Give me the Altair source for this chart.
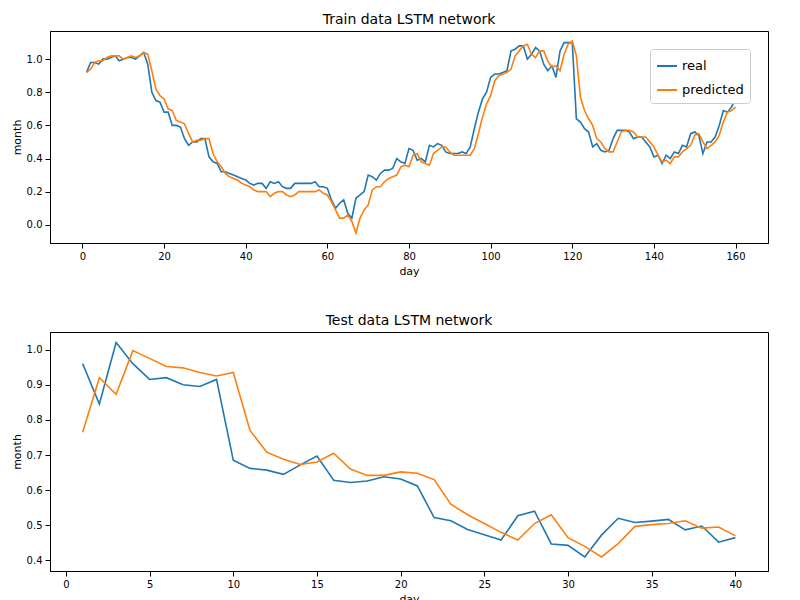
import pandas as pd
import altair as alt

train_real = [0.92, 0.98, 0.98, 0.97, 1.00, 1.00, 1.01, 1.02, 0.99, 1.00, 1.01, 1.01, 1.00, 1.02, 1.04, 0.97, 0.80, 0.75, 0.74, 0.68,
              0.68, 0.60, 0.60, 0.59, 0.52, 0.48, 0.50, 0.50, 0.52, 0.52, 0.41, 0.38, 0.37, 0.32, 0.32, 0.31, 0.30, 0.29, 0.28, 0.27,
              0.25, 0.24, 0.25, 0.25, 0.22, 0.26, 0.25, 0.26, 0.23, 0.22, 0.22, 0.25, 0.25, 0.25, 0.25, 0.25, 0.26, 0.23, 0.23, 0.22,
              0.15, 0.10, 0.13, 0.15, 0.07, 0.04, 0.16, 0.18, 0.20, 0.30, 0.29, 0.27, 0.31, 0.33, 0.33, 0.34, 0.40, 0.38, 0.37, 0.46,
              0.45, 0.39, 0.40, 0.38, 0.48, 0.47, 0.49, 0.48, 0.44, 0.43, 0.43, 0.43, 0.44, 0.43, 0.47, 0.58, 0.68, 0.76, 0.80, 0.89,
              0.91, 0.91, 0.92, 0.93, 1.05, 1.06, 1.08, 1.08, 1.00, 1.03, 1.07, 1.05, 0.97, 0.93, 0.96, 0.89, 1.05, 1.10, 1.10, 1.10,
              0.64, 0.62, 0.58, 0.56, 0.47, 0.49, 0.45, 0.44, 0.45, 0.52, 0.57, 0.57, 0.57, 0.56, 0.52, 0.53, 0.53, 0.50, 0.47, 0.41,
              0.42, 0.37, 0.42, 0.40, 0.44, 0.43, 0.48, 0.47, 0.55, 0.56, 0.54, 0.43, 0.50, 0.50, 0.53, 0.60, 0.69, 0.68, 0.71, 0.76]
train_pred = [0.92, 0.94, 0.98, 0.99, 0.99, 1.01, 1.02, 1.02, 1.02, 1.00, 1.01, 1.02, 1.01, 1.02, 1.04, 1.03, 0.93, 0.82, 0.78, 0.76,
              0.70, 0.69, 0.63, 0.62, 0.61, 0.55, 0.50, 0.51, 0.51, 0.52, 0.52, 0.43, 0.38, 0.35, 0.31, 0.29, 0.28, 0.27, 0.25, 0.24,
              0.23, 0.21, 0.20, 0.20, 0.20, 0.17, 0.19, 0.20, 0.20, 0.18, 0.17, 0.18, 0.20, 0.20, 0.20, 0.20, 0.20, 0.21, 0.19, 0.18,
              0.14, 0.09, 0.04, 0.04, 0.06, 0.02, -0.05, 0.04, 0.09, 0.12, 0.21, 0.23, 0.23, 0.26, 0.28, 0.29, 0.30, 0.35, 0.36, 0.35,
              0.42, 0.43, 0.38, 0.37, 0.36, 0.43, 0.45, 0.47, 0.47, 0.44, 0.42, 0.42, 0.42, 0.42, 0.42, 0.46, 0.55, 0.65, 0.73, 0.78,
              0.87, 0.90, 0.91, 0.92, 0.94, 1.02, 1.05, 1.08, 1.09, 1.03, 1.01, 1.05, 1.05, 0.99, 0.95, 0.96, 0.93, 1.03, 1.09, 1.11,
              1.02, 0.77, 0.69, 0.64, 0.60, 0.52, 0.50, 0.46, 0.44, 0.44, 0.50, 0.56, 0.57, 0.57, 0.56, 0.53, 0.53, 0.53, 0.50, 0.47,
              0.42, 0.38, 0.39, 0.37, 0.41, 0.41, 0.44, 0.46, 0.48, 0.54, 0.55, 0.50, 0.46, 0.48, 0.50, 0.54, 0.62, 0.68, 0.69, 0.71]

test_real = [0.96, 0.845, 1.02, 0.96, 0.915, 0.92, 0.90, 0.895, 0.915, 0.685, 0.662, 0.657, 0.645, 0.672, 0.697, 0.628, 0.622, 0.626, 0.638, 0.632,
             0.612, 0.522, 0.513, 0.488, 0.473, 0.458, 0.527, 0.54, 0.447, 0.443, 0.41, 0.472, 0.52, 0.508, 0.512, 0.517, 0.487, 0.498, 0.452, 0.465]
test_pred = [0.765, 0.92, 0.873, 0.997, 0.975, 0.952, 0.948, 0.935, 0.925, 0.935, 0.77, 0.708, 0.688, 0.673, 0.68, 0.705, 0.66, 0.642, 0.642, 0.652,
             0.648, 0.63, 0.56, 0.53, 0.505, 0.48, 0.458, 0.505, 0.53, 0.465, 0.44, 0.41, 0.448, 0.497, 0.502, 0.505, 0.513, 0.492, 0.495, 0.47]

train_xticks = [0, 20, 40, 60, 80, 100, 120, 140, 160]
train_yticks = [0.0, 0.2, 0.4, 0.6, 0.8, 1.0]
test_xticks = [0, 5, 10, 15, 20, 25, 30, 35, 40]
test_yticks = [0.4, 0.5, 0.6, 0.7, 0.8, 0.9, 1.0]


def long_df(real, pred):
    n = len(real)
    return pd.DataFrame({
        'day': list(range(1, n + 1)) * 2,
        'value': real + pred,
        'series': ['real'] * n + ['predicted'] * n,
    })


color = alt.Color('series:N', sort=['real', 'predicted'],
                  scale=alt.Scale(domain=['real', 'predicted'], range=['#1f77b4', '#ff7f0e']),
                  legend=alt.Legend(title=None, orient='top-right', fillColor='white', strokeColor='#cccccc',
                                    cornerRadius=3, padding=6, labelFontSize=13, symbolType='stroke',
                                    symbolSize=400, symbolStrokeWidth=2, rowPadding=6))


def panel(df, title, xdom, xticks, ydom, yticks, h):
    return alt.Chart(df, title=alt.Title(title, fontSize=14, fontWeight='normal')).mark_line(strokeWidth=1.6).encode(
        x=alt.X('day:Q', title='day', scale=alt.Scale(domain=xdom, nice=False, zero=False),
                axis=alt.Axis(values=xticks, grid=False)),
        y=alt.Y('value:Q', title='month', scale=alt.Scale(domain=ydom, nice=False, zero=False),
                axis=alt.Axis(values=yticks, grid=False, format='.1f')),
        color=color,
        order=alt.Order('day:Q'),
    ).properties(width=718, height=h)


top = panel(long_df(train_real, train_pred), 'Train data LSTM network', [-7.95, 167.95], train_xticks,
            [-0.11, 1.17], train_yticks, 212)
bottom = panel(long_df(test_real, test_pred), 'Test data LSTM network', [-0.95, 41.95], test_xticks,
               [0.37, 1.05], test_yticks, 239)

chart = alt.vconcat(top, bottom, spacing=36).configure(
    font='DejaVu Sans', padding={'left': 2, 'top': 4, 'right': 5, 'bottom': 2}
).configure_axis(
    labelFontSize=10, titleFontSize=11, titleFontWeight='normal', domainColor='black', tickColor='black',
    labelColor='black', titleColor='black', labelPadding=3
).configure_view(stroke='black')

chart.save("out.html", embed_options={"renderer": "svg", "actions": False})
